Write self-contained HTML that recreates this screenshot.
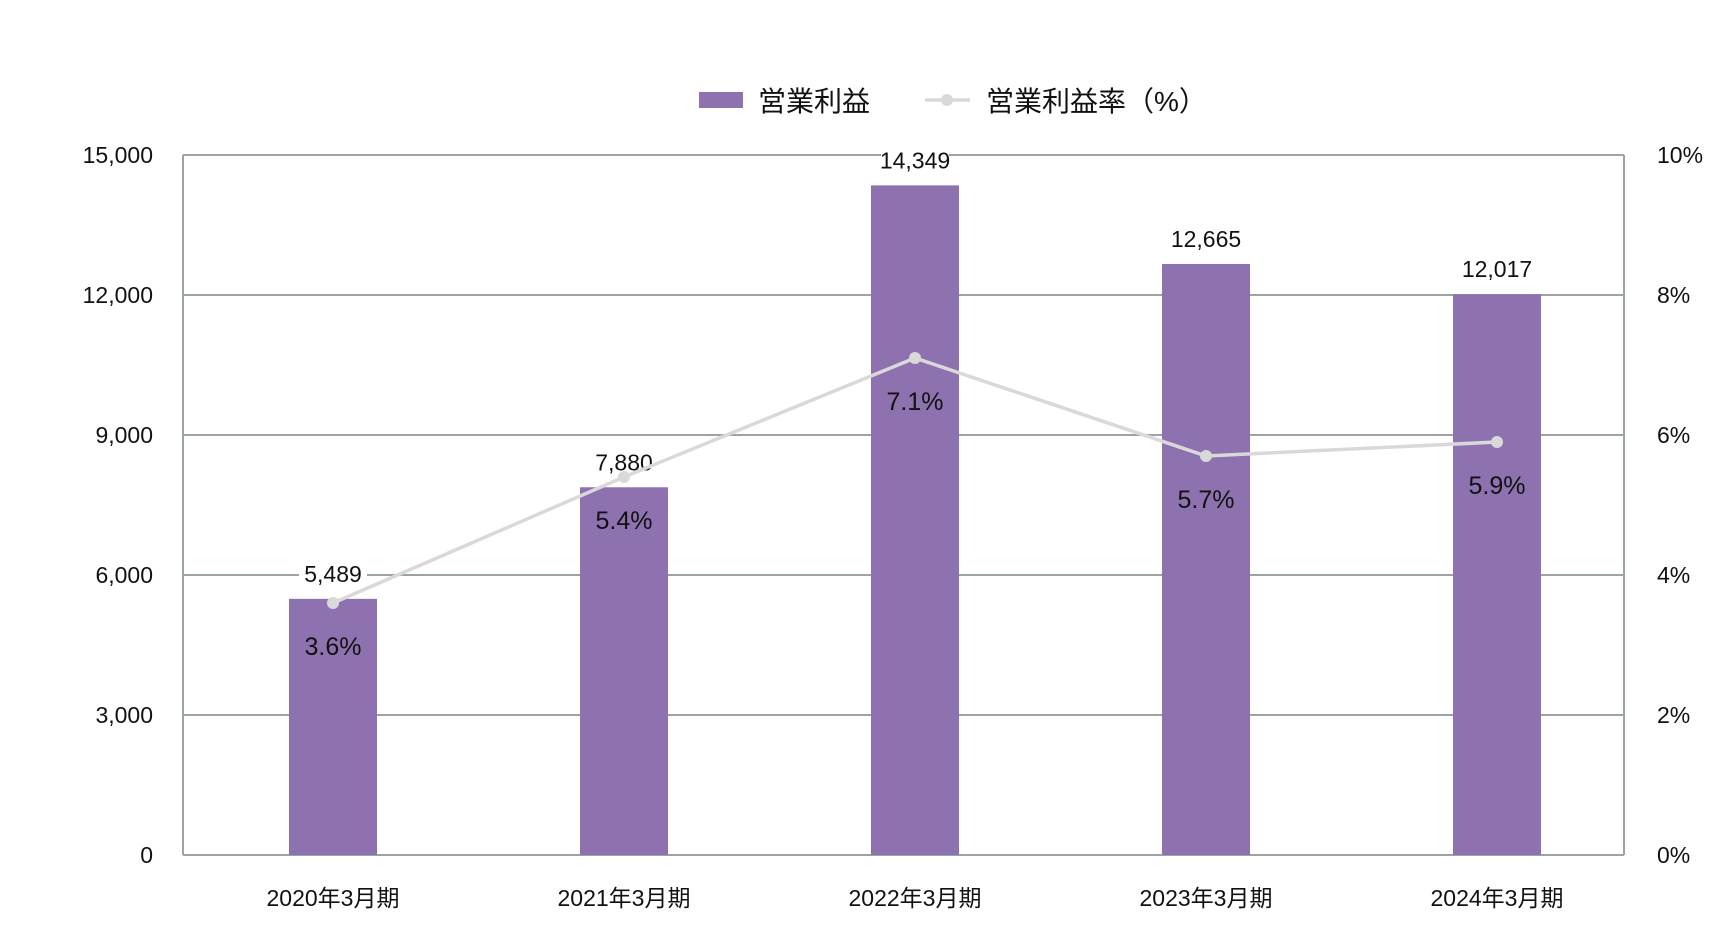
<!DOCTYPE html>
<html><head><meta charset="utf-8"><style>
body{margin:0;background:#fff}
svg text{font-family:"Liberation Sans Narrow","Liberation Sans","Noto Sans CJK JP",sans-serif;fill:#111}
</style></head><body>
<svg id="c" width="1732" height="946" xmlns="http://www.w3.org/2000/svg"></svg>
<script>
const categories=["2020年3月期","2021年3月期","2022年3月期","2023年3月期","2024年3月期"];
const profit=[5489,7880,14349,12665,12017];
const profitLabels=["5,489","7,880","14,349","12,665","12,017"];
const margin=[3.6,5.4,7.1,5.7,5.9];
const leftTicks=[0,3000,6000,9000,12000,15000];
const leftTickLabels=["0","3,000","6,000","9,000","12,000","15,000"];
const rightTicks=[0,2,4,6,8,10];
const NS="http://www.w3.org/2000/svg",svg=document.getElementById('c');
const L=183,R=1624,T=155,B=855;
const yL=v=>B-v/15000*(B-T), yR=v=>B-v/10*(B-T), xC=i=>333+i*291;
function el(t,a,p){const e=document.createElementNS(NS,t);for(const k in a)e.setAttribute(k,a[k]);(p||svg).appendChild(e);return e;}
function tx(s,a){const e=el('text',a);e.textContent=s;return e;}
leftTicks.forEach((v,i)=>{const g=el('line',{x1:L,x2:R,y1:yL(v),y2:yL(v),stroke:'#9aa5a3','stroke-width':2});

const t=tx(leftTickLabels[i],{x:153,y:yL(v)+8,'text-anchor':'end','font-size':23});
});
rightTicks.forEach(v=>{const t=tx(v+'%',{x:1657,y:yR(v)+8,'font-size':23});
});
[L,R].forEach(x=>{const a=el('line',{x1:x,x2:x,y1:T,y2:B,stroke:'#9aa5a3','stroke-width':2});});
profit.forEach((v,i)=>{const r=el('rect',{x:xC(i)-44,y:yL(v),width:88,height:B-yL(v),fill:'#8e72b0'});

const bg=el('rect',{x:xC(i)-34,y:yL(v)-40,width:68,height:28,fill:'#fff'});

const t=tx(profitLabels[i],{x:xC(i),y:yL(v)-17,'text-anchor':'middle','font-size':23});

const c=tx(categories[i],{x:xC(i),y:906,'text-anchor':'middle','font-size':23});
});
const pl=el('polyline',{points:margin.map((v,i)=>xC(i)+','+yR(v)).join(' '),fill:'none',stroke:'#d9d9d9','stroke-width':3.5});

margin.forEach((v,i)=>{const d=el('circle',{cx:xC(i),cy:yR(v),r:6,fill:'#d9d9d9'});

const t=tx(v.toFixed(1)+'%',{x:xC(i),y:yR(v)+52,'text-anchor':'middle','font-size':25});
});
const lr=el('rect',{x:699,y:92,width:44,height:16,fill:'#8e72b0'});
const l1=tx('営業利益',{x:758,y:111,'font-size':28});
const ll=el('line',{x1:925,x2:970,y1:100,y2:100,stroke:'#d9d9d9','stroke-width':3.5});
const lc=el('circle',{cx:947,cy:100,r:6,fill:'#d9d9d9'});
const l2=tx('営業利益率（%）',{x:986,y:111,'font-size':28});
</script>
</body></html>
